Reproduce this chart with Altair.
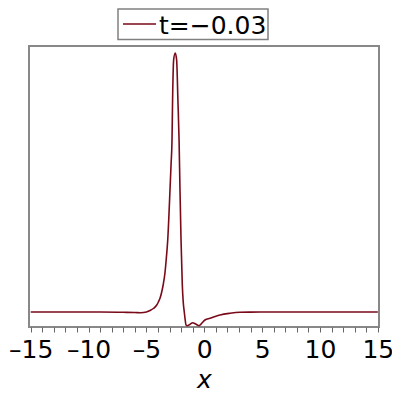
import altair as alt
import pandas as pd

# curve samples (x, relative height)
xs = [-15, -12, -9, -7, -6, -5.5, -5.0, -4.7, -4.4, -4.11, -3.97, -3.82, -3.68,
      -3.54, -3.40, -3.28, -3.16, -3.0, -2.87, -2.79, -2.74, -2.65, -2.51, -2.39,
      -2.28, -2.18, -2.10, -2.01, -1.90, -1.82, -1.73, -1.65, -1.58, -1.47, -1.25,
      -1.00, -0.75, -0.43, -0.30, 0.06, 0.49, 1.0, 1.36, 2.22, 3.09, 4.0, 5.4, 8,
      11, 15]
ys = [0, 0, 0, -0.3, -0.5, -0.7, 0, 1.5, 3.5, 7, 10, 14, 20,
      28, 39, 54, 72, 112, 148, 172, 212, 252, 259, 252,
      212, 172, 122, 72, 27, 10, 0, -8, -13, -13.7, -12.5,
      -10.7, -12, -13.7, -12.3, -8, -6.3, -4.2, -3, -1.3, -0.3, -0.1, 0, 0,
      0, 0]
series_name = "t=\u22120.03"
line_color = "#7A0A1A"
tick_values = list(range(-15, 16))

df = pd.DataFrame({"x": xs, "y": ys})
leg = pd.DataFrame({"s": [series_name]})

label_expr = ("datum.value % 5 != 0 ? '' : (datum.value < 0 ? "
              "'\u2013' + abs(datum.value) : '' + datum.value)")

curve = alt.Chart(df).mark_line(interpolate="monotone", strokeWidth=1.6,
                                color=line_color).encode(
    x=alt.X("x:Q",
            scale=alt.Scale(domain=[-15.15, 15.1], nice=False, zero=False),
            axis=alt.Axis(title="x", values=tick_values,
                          labelExpr=label_expr,
                          domain=False, grid=False, tickSize=5, tickColor="#666666",
                          tickWidth=1, labelFont="DejaVu Sans", labelFontSize=25,
                          labelColor="black", labelPadding=5, labelFlush=False,
                          labelOverlap=False,
                          titleFont="DejaVu Sans", titleFontSize=25,
                          titleFontStyle="italic", titleFontWeight="normal",
                          titleColor="black", titlePadding=5)),
    y=alt.Y("y:Q", scale=alt.Scale(domain=[-15, 266], nice=False, zero=False),
            axis=None),
)

legend_box = alt.Chart(leg).mark_rect(fill="white", stroke="#808080",
                                      strokeWidth=1.5).encode(
    x=alt.value(89), x2=alt.value(239), y=alt.value(-37), y2=alt.value(-6.5))
legend_line = alt.Chart(leg).mark_rule(color=line_color, strokeWidth=1.6).encode(
    x=alt.value(94), x2=alt.value(127), y=alt.value(-22))
legend_text = alt.Chart(leg).mark_text(align="left", baseline="middle",
                                       font="DejaVu Sans", fontSize=25,
                                       color="black").encode(
    x=alt.value(130), y=alt.value(-20), text="s:N")

chart = alt.layer(curve, legend_box, legend_line, legend_text).properties(
    width=350, height=281,
    autosize=alt.AutoSizeParams(type="none"),
    padding={"left": 21, "top": 38, "right": 13, "bottom": 65},
).configure_view(stroke="#888888", strokeWidth=2)

chart.save("out.html", embed_options={"renderer": "svg", "actions": False})
